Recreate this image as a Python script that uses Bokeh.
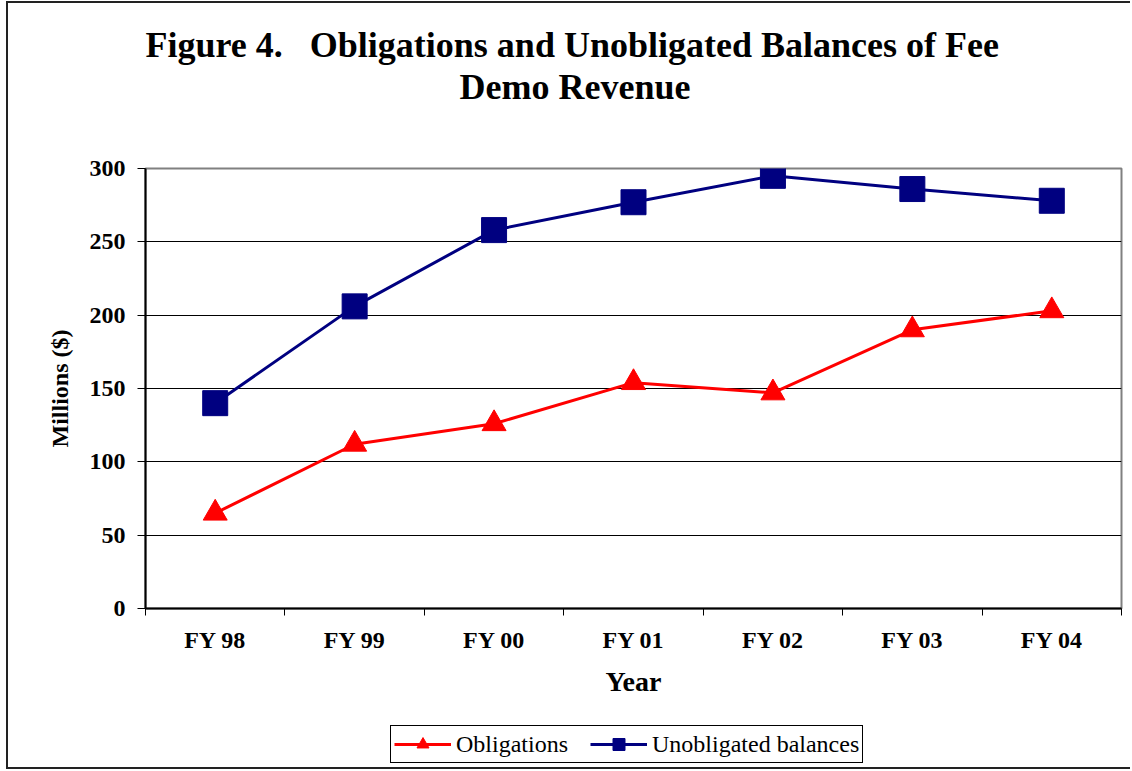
from bokeh.plotting import figure
from bokeh.layouts import column
from bokeh.models import FixedTicker, Legend, LegendItem, Range1d, Title
from bokeh.embed import file_html
from bokeh.resources import INLINE

years = ["FY 98", "FY 99", "FY 00", "FY 01", "FY 02", "FY 03", "FY 04"]
obligations = [65, 112, 126, 154, 147, 190, 203]
unobligated = [140, 206, 258, 277, 295, 286, 278]
y_ticks = [0, 50, 100, 150, 200, 250, 300]
title_lines = ["Figure 4.\u00a0\u00a0\u00a0Obligations and Unobligated Balances of Fee",
               "Demo Revenue"]
series_names = ["Obligations", "Unobligated balances"]

SERIF = "Liberation Serif"
RED = "#FF0000"
NAVY = "#000080"
xs = [i + 0.5 for i in range(len(years))]

p = figure(width=1122, height=717, output_backend="svg", toolbar_location=None,
           title=None,
           x_range=Range1d(0, len(years)), y_range=Range1d(0, 300),
           min_border_left=137, min_border_right=9, min_border_top=165,
           min_border_bottom=112)

p.outline_line_color = "#808080"
p.outline_line_width = 2
p.xgrid.visible = False
p.ygrid.grid_line_color = "#000000"
p.ygrid.grid_line_width = 1
p.ygrid.ticker = FixedTicker(ticks=y_ticks)

# y axis
p.yaxis.ticker = FixedTicker(ticks=y_ticks)
p.yaxis.axis_label = "Millions ($)"
p.yaxis.axis_label_text_font = SERIF
p.yaxis.axis_label_text_font_style = "bold"
p.yaxis.axis_label_text_font_size = "24px"
p.yaxis.axis_label_text_color = "#000000"
p.yaxis.axis_label_standoff = 14
p.yaxis.major_label_text_font = SERIF
p.yaxis.major_label_text_font_style = "bold"
p.yaxis.major_label_text_font_size = "24px"
p.yaxis.major_label_text_color = "#000000"
p.yaxis.major_label_standoff = 12
p.yaxis.major_tick_out = 8
p.yaxis.major_tick_in = 0
p.yaxis.minor_tick_out = 0
p.yaxis.minor_tick_in = 0
p.yaxis.axis_line_color = "#000000"
p.yaxis.axis_line_width = 2
p.yaxis.major_tick_line_color = "#000000"
p.yaxis.major_tick_line_width = 1

# x axis: labels at category centres, ticks at category boundaries
p.xaxis.ticker = FixedTicker(ticks=xs, minor_ticks=list(range(len(years) + 1)))
p.xaxis.major_label_overrides = {x: y for x, y in zip(xs, years)}
p.xaxis.major_tick_out = 0
p.xaxis.major_tick_in = 0
p.xaxis.minor_tick_out = 7
p.xaxis.minor_tick_in = 0
p.xaxis.minor_tick_line_color = "#000000"
p.xaxis.minor_tick_line_width = 1
p.xaxis.axis_line_color = "#000000"
p.xaxis.axis_line_width = 2
p.xaxis.major_label_text_font = SERIF
p.xaxis.major_label_text_font_style = "bold"
p.xaxis.major_label_text_font_size = "24px"
p.xaxis.major_label_text_color = "#000000"
p.xaxis.major_label_standoff = 11
p.xaxis.axis_label = "Year"
p.xaxis.axis_label_text_font = SERIF
p.xaxis.axis_label_text_font_style = "bold"
p.xaxis.axis_label_text_font_size = "28px"
p.xaxis.axis_label_text_color = "#000000"
p.xaxis.axis_label_standoff = 10

# series
p.line(xs, obligations, line_color=RED, line_width=3)
p.scatter(xs, obligations, marker="triangle", size=24, fill_color=RED, line_color=RED)
p.line(xs, unobligated, line_color=NAVY, line_width=3)
p.scatter(xs, unobligated, marker="square", size=25, fill_color=NAVY, line_color=NAVY)

# title: spacer nearest the frame, then line 2, then line 1
p.add_layout(Title(text="\u00a0", text_font_size="2px", standoff=58), "above")
p.add_layout(Title(text=title_lines[1], align="left", offset=314, standoff=0,
                   vertical_align="bottom", text_font=SERIF, text_font_style="bold",
                   text_font_size="36px", text_color="#000000"), "above")
p.add_layout(Title(text=title_lines[0], align="left", offset=0, standoff=0,
                   vertical_align="bottom", text_font=SERIF, text_font_style="bold",
                   text_font_size="36px", text_color="#000000"), "above")

# legend row (its frame is aligned with the chart frame by the column layout);
# the series are drawn here outside the visible range only so the legend has glyphs
q = figure(width=1122, height=47, output_backend="svg", toolbar_location=None,
           title=None, x_axis_location=None, y_axis_location=None,
           x_range=Range1d(0, 1), y_range=Range1d(-2, -1), min_border=0)
q.outline_line_color = None
q.grid.visible = False
l1 = q.line(xs, obligations, line_color=RED, line_width=3)
m1 = q.scatter(xs, obligations, marker="triangle", size=24, fill_color=RED, line_color=RED)
l2 = q.line(xs, unobligated, line_color=NAVY, line_width=3)
m2 = q.scatter(xs, unobligated, marker="square", size=25, fill_color=NAVY, line_color=NAVY)
legend = Legend(items=[
    LegendItem(label=series_names[0], renderers=[l1, m1]),
    LegendItem(label=series_names[1], renderers=[l2, m2]),
], orientation="horizontal", location=(245, 4))
legend.label_text_font = SERIF
legend.label_text_font_size = "24px"
legend.label_text_color = "#000000"
legend.border_line_color = "#000000"
legend.border_line_width = 1
legend.border_line_alpha = 1
legend.glyph_width = 57
legend.glyph_height = 30
legend.label_height = 30
legend.label_standoff = 5
legend.spacing = 22
legend.padding = 3
legend.margin = 0
q.add_layout(legend, "center")

layout = column(p, q, spacing=0)
layout.styles = {"margin-left": "6px", "margin-top": "1px",
                 "border-left": "2px solid #222", "border-top": "2px solid #222",
                 "border-bottom": "2px solid #222"}

open("out.html", "w").write(file_html(layout, INLINE))
